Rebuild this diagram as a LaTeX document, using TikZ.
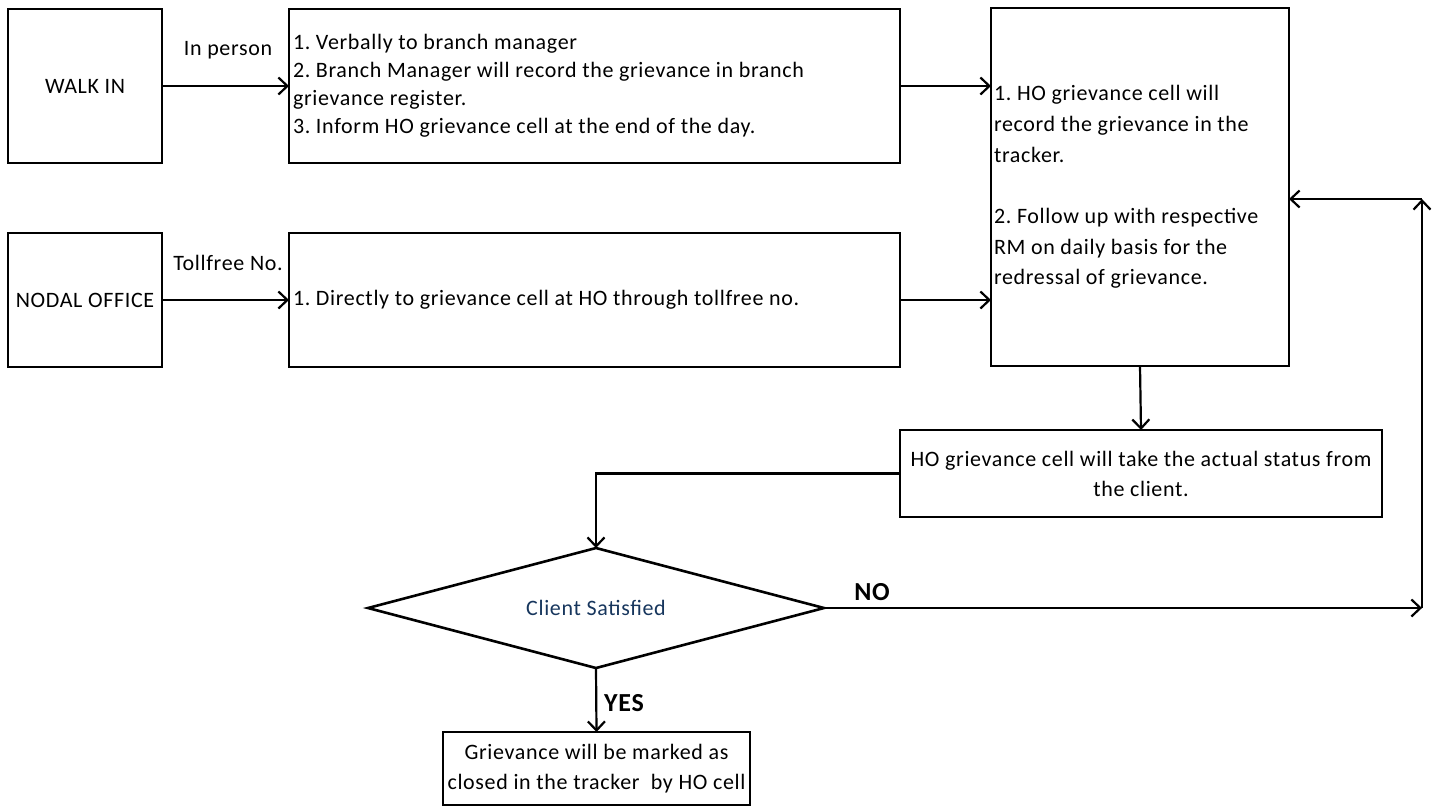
\documentclass[tikz,border=0pt]{standalone}
\usepackage{fontspec}
\setmainfont{Carlito}[LetterSpace=3.0]
\usetikzlibrary{arrows.meta,shapes.geometric}
\definecolor{satblue}{HTML}{17365D}

\begin{document}
\frenchspacing
\begin{tikzpicture}[x=1pt, y=-1pt, line width=2.2pt,
squarednode/.style={rectangle, draw, line width=2.6pt, inner sep=0pt, outer sep=0pt},
decision/.style={diamond, draw, line width=2.6pt, inner sep=0pt, outer sep=0pt, aspect=3.8},
flow/.style={-{Straight Barb[length=9pt,width=17pt,line width=2.2pt]}},
tag/.style={font=\fontsize{26}{30}\selectfont\bfseries}]
\tikzstyle{every node}=[font=\fontsize{22}{30}\selectfont]
\useasboundingbox (0,0) rectangle (1439,807);
% sources
\node[squarednode, minimum width=154pt, minimum height=154pt] (1) at (85,86) {WALK IN};
\node[squarednode, minimum width=154pt, minimum height=134pt] (3) at (85,300) {NODAL OFFICE};
% first steps
\node[squarednode, minimum width=611pt, minimum height=154pt, text width=603pt, align=flush left,
  font=\fontsize{22}{28}\selectfont] (2) at (594.5,86)
  {1. Verbally to branch manager\\2. Branch Manager will record the grievance in branch\\grievance register.\\3. Inform HO grievance cell at the end of the day.};
\node[squarednode, minimum width=611pt, minimum height=134pt, text width=603pt, align=flush left] (4) at (594.5,300)
  {1. Directly to grievance cell at HO through tollfree no.};
% HO cell
\node[squarednode, minimum width=298pt, minimum height=358pt, text width=292pt, align=flush left,
  font=\fontsize{22}{30.7}\selectfont] (5) at (1140,187)
  {1. HO grievance cell will\\record the grievance in the\\tracker.\\[30.7pt]2. Follow up with respective\\RM on daily basis for the\\redressal of grievance.};
\node[squarednode, minimum width=482pt, minimum height=87pt, align=center] (6) at (1141,473.5)
  {HO grievance cell will take the actual status from\\the client.};
\node[decision, minimum width=456pt, minimum height=120pt, text=satblue] (7) at (596,608) {Client Satisfied};
\node[squarednode, minimum width=307pt, minimum height=73pt, align=center] (8) at (596.5,768.5)
  {Grievance will be marked as\\closed in the tracker\ \ by HO cell};
% loop corners
\coordinate (9) at (1422,608);
\coordinate (10) at (1422,199);
% labels
\node (11) at (228,50) {In person};
\node (12) at (228,263) {Tollfree No.};
\node[tag] (13) at (872,592) {NO};
\node[tag] (14) at (624,703) {YES};
% connectors
\draw[flow] (1) -- (2);
\draw[flow] (3) -- (4);
\draw[flow] (2.east) -- (2.east -| 5.west);
\draw[flow] (4.east) -- (4.east -| 5.west);
\draw[flow] (5.south) -- (6.north);
\draw[flow] (6.west) -| (7.north);
\draw[flow] (7.east) -- (9);
\draw[flow] (9) -- (10);
\draw[flow] (10) -- (10 -| 5.east);
\draw[flow] (7.south) -- (8.north);
\end{tikzpicture}
\end{document}
